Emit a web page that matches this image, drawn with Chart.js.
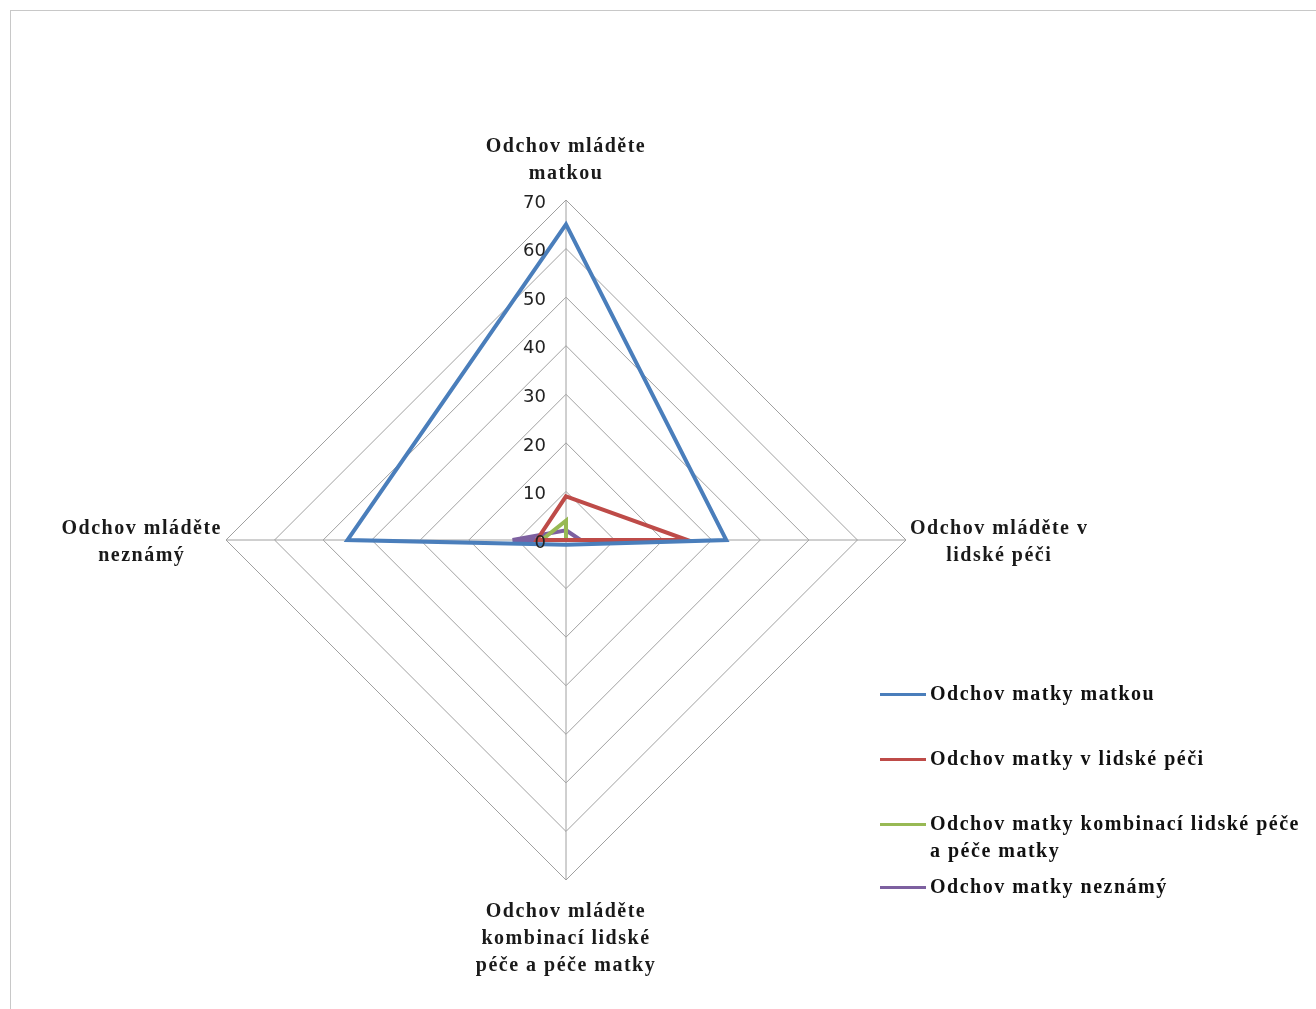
<!DOCTYPE html>
<html>
<head>
<meta charset="utf-8">
<script src="https://cdn.jsdelivr.net/npm/chart.js@4"></script>
<style>
  html, body { margin: 0; padding: 0; background: #fff; }
  #wrap { position: relative; width: 1316px; height: 1009px; overflow: hidden; }
  #frame { position: absolute; left: 10px; top: 10px; width: 1320px; height: 1020px; border: 1px solid #c8c8c8; box-sizing: border-box; }
  canvas { position: absolute; left: 0; top: 0; }
  #legend { position: absolute; left: 880px; top: 680px; width: 436px; font: bold 20px "Liberation Serif", serif; letter-spacing: 1.5px; color: #111; }
  .item { position: absolute; left: 0; display: flex; align-items: flex-start; white-space: nowrap; }
  .sw { width: 46px; height: 3px; margin-top: 13px; flex: none; }
  .txt { margin-left: 4px; line-height: 27px; }
</style>
</head>
<body>
<div id="wrap">
  <div id="frame"></div>
  <canvas id="radarChart" width="1316" height="1009"></canvas>
  <div id="legend"></div>
</div>
<script>
// axis labels, split into lines as printed around the diamond
const axisLabels = [
  ['Odchov mláděte', 'matkou'],
  ['Odchov mláděte v', 'lidské péči'],
  ['Odchov mláděte', 'kombinací lidské', 'péče a péče matky'],
  ['Odchov mláděte', 'neznámý']
];
const tickValues = [0, 10, 20, 30, 40, 50, 60, 70];

const seriesNames = [
  'Odchov matky matkou',
  'Odchov matky v lidské péči',
  'Odchov matky kombinací lidské péče a péče matky',
  'Odchov matky neznámý'
];
const matkou = [65, 33, 1, 45];
const lidskaPece = [9, 25, 0, 6];
const kombinace = [4, 0, 0, 5];
const neznamy = [2, 3, 0, 11];
const seriesColors = ['#4a7ebb', '#be4b48', '#98b954', '#7d60a0'];

const serif = '"Liberation Serif", serif';

// axis labels + tick numbers drawn by hand so the diamond keeps its size
const labelPlugin = {
  id: 'labels',
  afterDraw(chart) {
    const ctx = chart.ctx;
    const r = chart.scales.r;
    ctx.save();
    ctx.fillStyle = '#1a1a1a';
    ctx.font = 'bold 20px ' + serif;
    ctx.letterSpacing = '1.5px';
    ctx.textAlign = 'center';
    const lh = 27;
    axisLabels.forEach((lines, i) => {
      const p = r.getPointPosition(i, r.drawingArea);
      let x = p.x, y;
      if (i === 0) {
        y = p.y - 18 - lh * (lines.length - 1) - 8;
      } else if (i === 2) {
        y = p.y + 32;
      } else {
        y = p.y - lh / 2 + 2;
        const w = Math.max(...lines.map(l => ctx.measureText(l).width));
        x = i === 1 ? p.x + 4 + w / 2 : p.x - 4 - w / 2;
      }
      ctx.textBaseline = 'middle';
      lines.forEach((l, k) => ctx.fillText(l, x, y + k * lh));
    });

    ctx.letterSpacing = '0px';
    ctx.font = '18px "DejaVu Sans", sans-serif';
    ctx.fillStyle = '#222';
    ctx.textAlign = 'right';
    ctx.textBaseline = 'middle';
    tickValues.forEach(v => {
      const d = r.getDistanceFromCenterForValue(v);
      ctx.fillText(String(v), r.xCenter - 20, r.yCenter - d + 3);
    });
    ctx.restore();
  }
};

const datasets = [matkou, lidskaPece, kombinace, neznamy].map((vals, i) => ({
  label: seriesNames[i],
  data: vals,
  borderColor: seriesColors[i],
  backgroundColor: seriesColors[i],
  borderWidth: 4,
  pointRadius: 0,
  fill: false,
  tension: 0
}));

new Chart(document.getElementById('radarChart'), {
  type: 'radar',
  data: { labels: axisLabels, datasets: datasets },
  options: {
    responsive: false,
    animation: false,
    layout: { padding: { left: 226, right: 410, top: 200, bottom: 129 } },
    plugins: { legend: { display: false }, tooltip: { enabled: false } },
    scales: {
      r: {
        min: 0,
        max: 70,
        ticks: { display: false, stepSize: 10 },
        grid: { color: '#a0a0a0', lineWidth: 1 },
        angleLines: { color: '#a0a0a0', lineWidth: 1 },
        pointLabels: { display: false }
      }
    }
  },
  plugins: [labelPlugin]
});

// legend at lower right
const legendTops = [0, 65, 130, 193];
const legend = document.getElementById('legend');
seriesNames.forEach((name, i) => {
  const item = document.createElement('div');
  item.className = 'item';
  item.style.top = legendTops[i] + 'px';
  const sw = document.createElement('div');
  sw.className = 'sw';
  sw.style.background = seriesColors[i];
  const txt = document.createElement('div');
  txt.className = 'txt';
  txt.innerHTML = i === 2 ? 'Odchov matky kombinací lidské péče<br>a péče matky' : name;
  item.appendChild(sw);
  item.appendChild(txt);
  legend.appendChild(item);
});
</script>
</body>
</html>
